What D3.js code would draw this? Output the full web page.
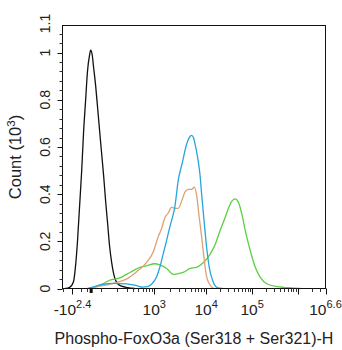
<!DOCTYPE html>
<html><head><meta charset="utf-8">
<script src="https://cdn.jsdelivr.net/npm/d3@7"></script>
<style>
body{margin:0;background:#fff}
svg{display:block}
text{font-family:"Liberation Sans",Arial,sans-serif;fill:#222}
</style>
</head><body><svg id="c" width="342" height="350"></svg>
<script>
// ---- data (x in logicle display channels 0..1000, y in counts x10^3) ----
const blackCh = [11,27,42,50,57,65,73,80,88,95,103,107,113,118,126,134,141,149,157,164,172,179,187,195,202,210,225,248,275];
const blackCount = [0,0.005,0.03,0.1,0.2,0.35,0.5,0.66,0.8,0.92,0.99,1.01,0.99,0.94,0.86,0.76,0.67,0.57,0.47,0.37,0.27,0.18,0.11,0.06,0.035,0.02,0.01,0.004,0];

const greenCh = [110,154,179,218,243,268,294,319,351,370,396,421,440,459,485,510,536,561,580,599,618,631,644,656,669,682,695,714,733,752,777,816,879,905];
const greenCount = [0,0.02,0.035,0.045,0.06,0.075,0.09,0.096,0.105,0.1,0.085,0.06,0.063,0.068,0.085,0.09,0.11,0.145,0.185,0.245,0.30,0.34,0.37,0.38,0.365,0.315,0.245,0.16,0.09,0.047,0.02,0.008,0.002,0];

const orangeCh = [103,141,179,205,243,281,319,345,364,377,389,402,415,427,440,453,466,478,491,501,510,520,529,538,548,561,574];
const orangeCount = [0,0.01,0.018,0.025,0.04,0.07,0.11,0.155,0.22,0.255,0.30,0.32,0.345,0.34,0.34,0.37,0.41,0.42,0.42,0.43,0.395,0.30,0.22,0.13,0.05,0.015,0];

const blueCh = [95,122,153,198,244,282,305,324,340,358,370,383,395,408,420,427,440,457,469,482,491,498,504,516,523,529,538,548,558,571,587,607];
const blueCount = [0,0.008,0.018,0.022,0.02,0.012,0.006,0.008,0.02,0.05,0.09,0.147,0.2,0.26,0.31,0.345,0.458,0.54,0.6,0.64,0.649,0.64,0.613,0.54,0.48,0.40,0.29,0.175,0.09,0.034,0.005,0];

// axis definitions
const yMax = 1.115;
const yMajor = [0,0.2,0.4,0.6,0.8,1];
const yMajorLabels = ["0","0.2","0.4","0.6","0.8","1"];
const xMajorCh = [38,349,546,721,1000];
const xMajorBase = ["-10","10","10","10","10"];
const xMajorExp = ["2.4","3","4","5","6.6"];
const xDecadeCh = [148,349,546,721,895];   // 10^2 .. 10^6
const xNegMinorCh = [0,69,92];
const xZeroCh = 109;
const xTitle = "Phospho-FoxO3a (Ser318 + Ser321)-H";

const svg = d3.select("#c");
const L = 62.5, R = 325.5, T = 25.5, B = 288.5;
const x = d3.scaleLinear().domain([0,1000]).range([L,R]);
const y = d3.scaleLinear().domain([0,yMax]).range([B,T]);

// curves
const series = [
  {xs:blackCh, ys:blackCount, color:"#111"},
  {xs:greenCh, ys:greenCount, color:"#5ccf45"},
  {xs:orangeCh, ys:orangeCount, color:"#dfa072"},
  {xs:blueCh, ys:blueCount, color:"#27a6dc"}
];
const line = d3.line().x(d=>x(d[0])).y(d=>y(d[1])).curve(d3.curveMonotoneX);
series.forEach(s=>{
  svg.append("path").datum(d3.zip(s.xs,s.ys))
    .attr("d",line).attr("fill","none").attr("stroke",s.color)
    .attr("stroke-width",1.3).attr("stroke-linejoin","round");
});

// frame
svg.append("rect").attr("x",L).attr("y",T).attr("width",R-L).attr("height",B-T)
  .attr("fill","none").attr("stroke","#111").attr("stroke-width",1);

// y ticks
const yMinor = d3.range(0, yMax, 0.04).filter(v => !yMajor.some(m=>Math.abs(m-v)<1e-6));
yMinor.forEach(v=>{
  svg.append("line").attr("x1",L-3).attr("x2",L).attr("y1",Math.round(y(v))+0.5).attr("y2",Math.round(y(v))+0.5)
    .attr("stroke","#333").attr("stroke-width",1);
});
yMajor.forEach((v,i)=>{
  const yy = Math.round(y(v))+0.5;
  svg.append("line").attr("x1",L-5).attr("x2",L).attr("y1",yy).attr("y2",yy).attr("stroke","#111");
  svg.append("text").attr("transform",`translate(50,${y(v)}) rotate(-90)`)
    .attr("text-anchor","middle").attr("font-size",14).text(yMajorLabels[i]);
});
svg.append("text").attr("transform",`translate(50,${y(yMax)-2}) rotate(-90)`)
  .attr("text-anchor","middle").attr("font-size",14).text(d3.format(".1f")(yMax));

// y title
const yt = svg.append("text").attr("transform",`translate(21,${(T+B)/2}) rotate(-90)`)
  .attr("text-anchor","middle").attr("font-size",16.5);
yt.append("tspan").text("Count (10");
yt.append("tspan").attr("font-size",11.5).attr("dy",-6.5).text("3");
yt.append("tspan").attr("dy",6.5).text(")");

// x ticks
const minorCh = [];
for (let i=0;i<xDecadeCh.length-1;i++){
  const a = xDecadeCh[i], b = xDecadeCh[i+1];
  for (let m=2;m<=9;m++) minorCh.push(a + Math.log10(m)*(b-a));
}
const lastW = xDecadeCh[4]-xDecadeCh[3];
[2,3].forEach(m=>minorCh.push(xDecadeCh[4] + Math.log10(m)*lastW));
minorCh.push(xDecadeCh[0]);
xNegMinorCh.forEach(c=>minorCh.push(c));
minorCh.forEach(c=>{
  const xx = Math.round(x(c))+0.5;
  svg.append("line").attr("x1",xx).attr("x2",xx).attr("y1",B).attr("y2",B+3.5).attr("stroke","#333");
});
[...xMajorCh, xDecadeCh[4]].forEach(c=>{
  const xx = Math.round(x(c))+0.5;
  svg.append("line").attr("x1",xx).attr("x2",xx).attr("y1",B).attr("y2",B+6).attr("stroke","#111");
});
svg.append("line").attr("x1",x(xZeroCh)).attr("x2",x(xZeroCh)).attr("y1",B).attr("y2",B+4.5)
  .attr("stroke","#111").attr("stroke-width",3);

xMajorCh.forEach((c,i)=>{
  const t = svg.append("text").attr("x",x(c)).attr("y",315).attr("text-anchor","middle").attr("font-size",15.5);
  t.append("tspan").text(xMajorBase[i]);
  t.append("tspan").attr("font-size",11).attr("dy",-7).text(xMajorExp[i]);
});

// x title
svg.append("text").attr("x",(L+R)/2).attr("y",344).attr("text-anchor","middle")
  .attr("font-size",16).text(xTitle);
</script>
</body></html>
